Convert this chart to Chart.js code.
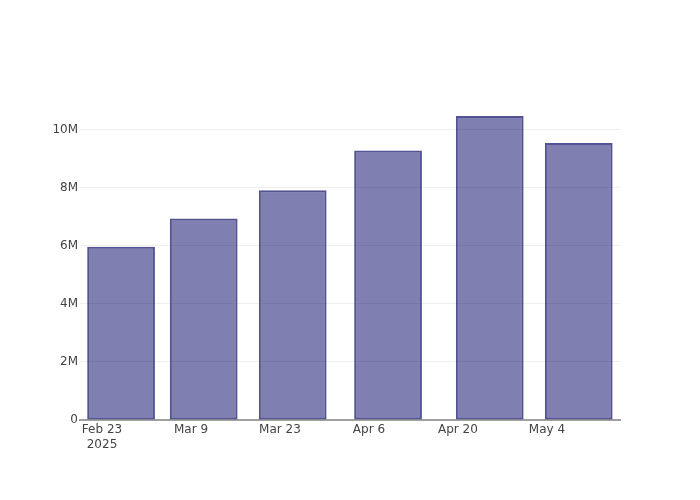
<!DOCTYPE html>
<html>
<head>
<meta charset="utf-8">
<script src="https://cdn.jsdelivr.net/npm/chart.js@4"></script>
<style>
  html, body { margin: 0; padding: 0; background: #fff; }
  #wrap { width: 700px; height: 500px; }
</style>
</head>
<body>
<div id="wrap"><canvas id="barChart" width="700" height="500"></canvas></div>
<script>
// ==========================
// Data
// ==========================
const periodDates = ['2025-02-26', '2025-03-11', '2025-03-25', '2025-04-09', '2025-04-25', '2025-05-09'];
const periodValues = [5.97e6, 6.94e6, 7.91e6, 9.28e6, 10.47e6, 9.54e6];
const tickDates = ['2025-02-23', '2025-03-09', '2025-03-23', '2025-04-06', '2025-04-20', '2025-05-04'];
const yTickValues = [0, 2e6, 4e6, 6e6, 8e6, 10e6];

const MONTHS = ['Jan', 'Feb', 'Mar', 'Apr', 'May', 'Jun', 'Jul', 'Aug', 'Sep', 'Oct', 'Nov', 'Dec'];
const DAY = 86400000;
const origin = Date.UTC(2025, 1, 23);

// dates -> day offsets so a linear axis can hold them
function toDay(s) {
  const p = s.split('-').map(Number);
  return (Date.UTC(p[0], p[1] - 1, p[2]) - origin) / DAY;
}
function dayLabel(d) {
  const dt = new Date(origin + d * DAY);
  return MONTHS[dt.getUTCMonth()] + ' ' + dt.getUTCDate();
}

const points = periodDates.map((d, i) => ({ x: toDay(d), y: periodValues[i] }));
const xTicks = tickDates.map(toDay);

Chart.defaults.font.family = '"DejaVu Sans", Verdana, sans-serif';
Chart.defaults.font.size = 12;
Chart.defaults.color = '#444';

new Chart(document.getElementById('barChart').getContext('2d'), {
  type: 'bar',
  data: {
    datasets: [{
      data: points,
      backgroundColor: 'rgba(0, 0, 100, 0.5)',
      borderColor: 'rgba(40, 40, 120, 0.8)',
      borderWidth: 2,
      borderSkipped: false,
      barPercentage: 0.82,
      categoryPercentage: 1.0
    }]
  },
  options: {
    responsive: false,
    animation: false,
    layout: { padding: { left: 0, right: 80, top: 100, bottom: 0 } },
    plugins: {
      legend: { display: false },
      tooltip: { enabled: false }
    },
    scales: {
      x: {
        type: 'linear',
        offset: false,
        min: -3.46,
        max: 81.49,
        afterBuildTicks: function (axis) {
          axis.ticks = xTicks.map(v => ({ value: v }));
        },
        afterFit: function (axis) { axis.height = 80; },
        grid: { display: false, drawTicks: false, offset: false },
        border: { display: true, color: '#a0a0a0', width: 2 },
        ticks: {
          padding: 3,
          maxRotation: 0,
          autoSkip: false,
          callback: function (v, i) {
            return i === 0 ? [dayLabel(v), '2025'] : dayLabel(v);
          }
        }
      },
      y: {
        min: 0,
        max: 11.02e6,
        afterBuildTicks: function (axis) {
          axis.ticks = yTickValues.map(v => ({ value: v }));
        },
        afterFit: function (axis) { axis.width = 80; },
        grid: { color: '#eeeeee', lineWidth: 1, drawTicks: false },
        border: { display: false },
        ticks: {
          padding: 2,
          callback: function (v) {
            return v === 0 ? '0' : (v / 1e6) + 'M';
          }
        }
      }
    }
  }
});
</script>
</body>
</html>
